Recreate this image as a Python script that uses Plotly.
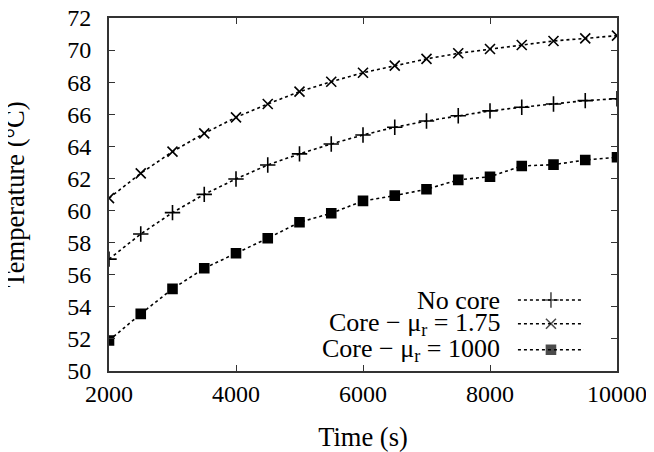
import plotly.graph_objects as go

time_s = [2000, 2500, 3000, 3500, 4000, 4500, 5000, 5500, 6000,
          6500, 7000, 7500, 8000, 8500, 9000, 9500, 10000]
no_core = [56.97, 58.54, 59.87, 61.01, 61.97, 62.84, 63.53, 64.15, 64.71,
           65.19, 65.58, 65.91, 66.21, 66.44, 66.64, 66.85, 66.97]
core_175 = [60.77, 62.32, 63.67, 64.81, 65.81, 66.64, 67.41, 68.03, 68.59,
            69.03, 69.45, 69.80, 70.07, 70.32, 70.57, 70.73, 70.90]
core_1000 = [51.90, 53.56, 55.12, 56.40, 57.34, 58.27, 59.27, 59.83, 60.60,
             60.93, 61.33, 61.91, 62.11, 62.78, 62.86, 63.15, 63.32]

series_names = ["No core", "Core \u2212 \u03bc<sub>r</sub> = 1.75", "Core \u2212 \u03bc<sub>r</sub> = 1000"]
series_values = [no_core, core_175, core_1000]
symbols = ["cross-thin-open", "x-thin-open", "square"]
sizes = [11, 10, 9]

FONT = "Liberation Serif"
fig = go.Figure()

for name, vals, sym, sz in zip(series_names, series_values, symbols, sizes):
    fig.add_trace(go.Scatter(
        x=time_s, y=vals, mode="lines+markers", name=name, showlegend=False,
        line=dict(color="black", width=1.6, dash="3px,3px"),
        marker=dict(symbol=sym, size=sz, color="black",
                    line=dict(color="black", width=1.6)),
    ))

# Manual legend (text right-aligned, key on the right, gnuplot style)
legend_rows = [0.201, 0.134, 0.060]
for name, sym, sz, ry in zip(series_names, symbols, sizes, legend_rows):
    fig.add_annotation(x=0.774, y=ry, xref="paper", yref="paper",
                       text=name, showarrow=False, xanchor="right", yanchor="middle",
                       font=dict(family=FONT, size=26, color="black"))
    fig.add_trace(go.Scatter(
        x=[0.805, 0.870, 0.935], y=[ry, ry, ry], xaxis="x2", yaxis="y2",
        mode="lines+markers", showlegend=False, hoverinfo="skip",
        line=dict(color="black", width=1.6, dash="3px,3px"),
        marker=dict(symbol=sym, size=[0, sz, 0], color="black",
                    line=dict(color="black", width=1.6)),
    ))

# Y axis title as an annotation (axis title standoff is ignored without automargin)
fig.add_annotation(x=-0.187, y=0.5, xref="paper", yref="paper",
                   text="Temperature (\u00b0C)", showarrow=False, textangle=-90,
                   xanchor="center", yanchor="middle",
                   font=dict(family=FONT, size=26.5, color="black"))

axis_common = dict(
    showgrid=False, zeroline=False, showline=True, linecolor="#333333", linewidth=2,
    mirror="ticks", ticks="inside", ticklen=6, tickwidth=1, tickcolor="#333333",
    tickfont=dict(family=FONT, size=24, color="black"), automargin=False,
    ticklabeloverflow="allow",
)

# The page body has an 8px default margin, so the figure is sized to fit the window.
fig.update_layout(
    width=646, height=444,
    margin=dict(l=101, r=37, t=10, b=81),
    paper_bgcolor="white", plot_bgcolor="white",
    font=dict(family=FONT, size=24, color="black"),
    xaxis=dict(range=[2000, 10000], dtick=2000, tick0=2000, tickformat="d",
               ticklabelstandoff=0,
               title=dict(text="Time (s)", font=dict(family=FONT, size=26.5), standoff=29),
               **axis_common),
    yaxis=dict(range=[50, 72], dtick=2, tick0=50, tickformat="d",
               ticklabelstandoff=11,
               **axis_common),
    xaxis2=dict(range=[0, 1], overlaying="x", visible=False, fixedrange=True),
    yaxis2=dict(range=[0, 1], overlaying="y", visible=False, fixedrange=True),
)

fig.write_html("out.html")
